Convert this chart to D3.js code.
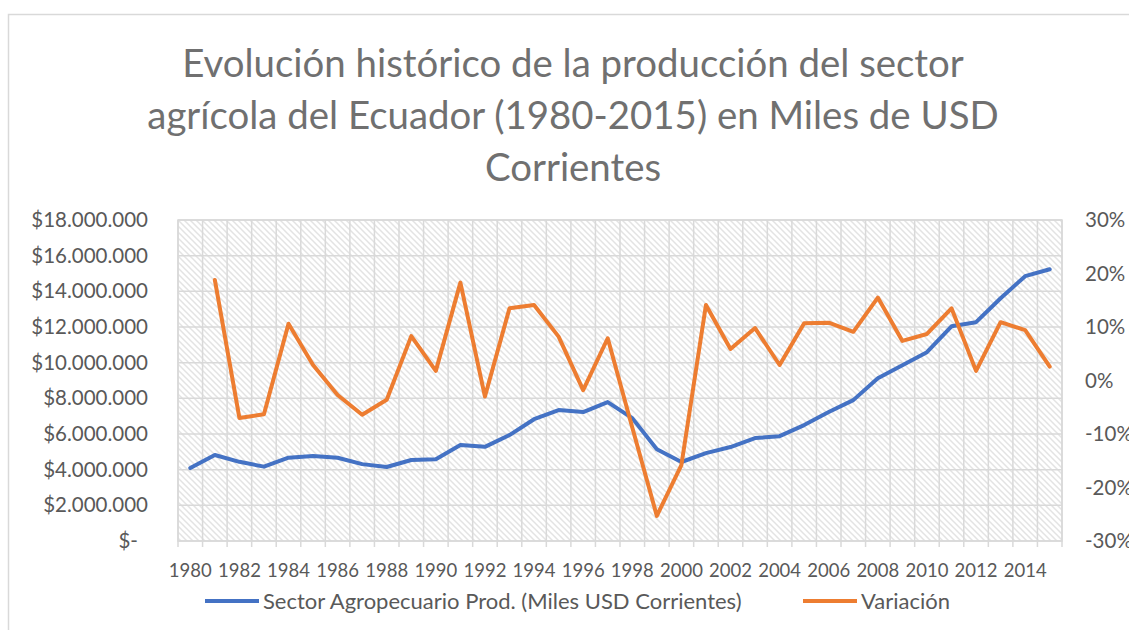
<!DOCTYPE html>
<html>
<head>
<meta charset="utf-8">
<script src="https://cdn.jsdelivr.net/npm/d3@7"></script>
<style>
    body { margin: 0; background: #fff; }
    text { font-family: Lato, "Noto Sans", sans-serif; }
</style>
</head>
<body>
<div id="chart"></div>
<script>
// Data
const years = [1980, 1981, 1982, 1983, 1984, 1985, 1986, 1987, 1988, 1989,
    1990, 1991, 1992, 1993, 1994, 1995, 1996, 1997, 1998, 1999,
    2000, 2001, 2002, 2003, 2004, 2005, 2006, 2007, 2008, 2009,
    2010, 2011, 2012, 2013, 2014, 2015];

// Sector Agropecuario Prod. (Miles USD Corrientes)
const production = [4090000, 4820000, 4440000, 4170000, 4670000, 4760000, 4670000, 4310000, 4150000, 4540000,
    4590000, 5380000, 5280000, 5940000, 6830000, 7340000, 7230000, 7790000, 6890000, 5150000,
    4430000, 4930000, 5270000, 5770000, 5880000, 6500000, 7230000, 7900000, 9130000, 9860000,
    10590000, 12040000, 12270000, 13610000, 14850000, 15240000];

// Variación (%), no value for the first year
const variation = [null, 18.8, -7.0, -6.3, 10.6, 2.9, -2.7, -6.4, -3.6, 8.3,
    1.8, 18.3, -3.0, 13.5, 14.1, 8.2, -1.8, 7.9, -8.8, -25.3,
    -15.8, 14.1, 5.9, 9.8, 2.9, 10.7, 10.8, 9.1, 15.5, 7.4,
    8.7, 13.5, 1.8, 10.9, 9.4, 2.6];

const leftTicks = [0, 2000000, 4000000, 6000000, 8000000, 10000000, 12000000, 14000000, 16000000, 18000000];
const rightTicks = [-30, -20, -10, 0, 10, 20, 30];
const yearLabels = years.filter(function(y) { return (y - 1980) % 2 === 0; });

const titleLines = ["Evolución histórico de la producción del sector",
    "agrícola del Ecuador (1980-2015) en Miles de USD",
    "Corrientes"];
const seriesNames = ["Sector Agropecuario Prod. (Miles USD Corrientes)", "Variación"];

/**
 * Constructor for the combo chart
 */
function ComboChart(){
    let self = this;
    self.init();
};

/**
 * Builds the svg, axes and both lines
 */
ComboChart.prototype.init = function(){
    let self = this;
    self.width = 1129;
    self.height = 630;
    self.plot = {left: 178, right: 1062, top: 220, bottom: 541};

    self.svg = d3.select("#chart").append("svg")
        .attr("width", self.width)
        .attr("height", self.height);

    //Hatch pattern for the plot background
    let pattern = self.svg.append("defs").append("pattern")
        .attr("id", "hatch")
        .attr("patternUnits", "userSpaceOnUse")
        .attr("width", 6)
        .attr("height", 6);
    pattern.append("path")
        .attr("d", "M-1,-1 L7,7 M-4,2 L1,7 M5,-1 L7,1")
        .attr("stroke", "#e3e3e3")
        .attr("stroke-width", 1.5);

    //Outer chart border
    self.svg.append("rect")
        .attr("x", 8.5)
        .attr("y", 14.5)
        .attr("width", 1140)
        .attr("height", 640)
        .attr("fill", "none")
        .attr("stroke", "#d9d9d9")
        .attr("stroke-width", 1.5);

    //Title
    self.svg.append("g")
        .selectAll("text")
        .data(titleLines)
        .join("text")
        .attr("x", 573)
        .attr("y", function(d, i) { return 77 + i * 52; })
        .attr("text-anchor", "middle")
        .attr("font-size", 38.4)
        .attr("fill", "#707070")
        .text(function(d) { return d; });

    let x = d3.scaleBand()
        .domain(years)
        .range([self.plot.left, self.plot.right]);
    let yLeft = d3.scaleLinear()
        .domain([0, 18000000])
        .range([self.plot.bottom, self.plot.top]);
    let yRight = d3.scaleLinear()
        .domain([-30, 30])
        .range([self.plot.bottom, self.plot.top]);
    let cx = function(year) { return x(year) + x.bandwidth() / 2; };

    //Plot area background
    self.svg.append("rect")
        .attr("x", self.plot.left)
        .attr("y", self.plot.top)
        .attr("width", self.plot.right - self.plot.left)
        .attr("height", self.plot.bottom - self.plot.top)
        .attr("fill", "url(#hatch)");

    //Horizontal gridlines
    self.svg.append("g")
        .selectAll("line")
        .data(leftTicks)
        .join("line")
        .attr("x1", self.plot.left)
        .attr("x2", self.plot.right)
        .attr("y1", function(d) { return yLeft(d); })
        .attr("y2", function(d) { return yLeft(d); })
        .attr("stroke", "#d9d9d9")
        .attr("stroke-width", 1.5);

    //Vertical gridlines at the category boundaries, with small ticks below
    let bounds = years.map(function(y) { return x(y); }).concat([self.plot.right]);
    self.svg.append("g")
        .selectAll("line")
        .data(bounds)
        .join("line")
        .attr("x1", function(d) { return d; })
        .attr("x2", function(d) { return d; })
        .attr("y1", self.plot.top)
        .attr("y2", self.plot.bottom + 6)
        .attr("stroke", "#d9d9d9")
        .attr("stroke-width", 1.5);

    //Left axis
    let fmtMoney = function(v) {
        if (v === 0) return "$-";
        return "$" + d3.format(",")(v).replace(/,/g, ".");
    };
    let leftAxis = self.svg.append("g")
        .attr("transform", "translate(" + self.plot.left + ",0)")
        .call(d3.axisLeft(yLeft).tickValues(leftTicks).tickFormat(fmtMoney).tickSize(0).tickPadding(30));
    leftAxis.select(".domain").remove();
    leftAxis.selectAll("text")
        .attr("font-size", 20.5)
        .attr("fill", "#595959")
        .attr("font-family", "Lato, sans-serif")
        .attr("dx", function(d) { return d === 0 ? -10 : 0; });

    //Right axis (cut at the picture edge, as in the original)
    let rightAxis = self.svg.append("g")
        .attr("transform", "translate(" + self.plot.right + ",0)")
        .call(d3.axisRight(yRight).tickValues(rightTicks).tickFormat(function(d) { return d + "%"; }).tickSize(0).tickPadding(23));
    rightAxis.select(".domain").remove();
    rightAxis.selectAll("text")
        .attr("font-size", 20.5)
        .attr("fill", "#595959")
        .attr("font-family", "Lato, sans-serif");

    //Bottom axis
    let bottomAxis = self.svg.append("g")
        .attr("transform", "translate(0," + self.plot.bottom + ")")
        .call(d3.axisBottom(x).tickValues(yearLabels).tickSize(0).tickPadding(23));
    bottomAxis.select(".domain").remove();
    bottomAxis.selectAll("text")
        .attr("font-size", 18.5)
        .attr("fill", "#595959")
        .attr("font-family", "Lato, sans-serif");

    //Plot border
    self.svg.append("rect")
        .attr("x", self.plot.left)
        .attr("y", self.plot.top)
        .attr("width", self.plot.right - self.plot.left)
        .attr("height", self.plot.bottom - self.plot.top)
        .attr("fill", "none")
        .attr("stroke", "#d9d9d9")
        .attr("stroke-width", 1.5);

    //Lines
    let prodLine = d3.line()
        .x(function(d, i) { return cx(years[i]); })
        .y(function(d) { return yLeft(d); });
    let varLine = d3.line()
        .defined(function(d) { return d !== null; })
        .x(function(d, i) { return cx(years[i]); })
        .y(function(d) { return yRight(d); });

    self.svg.append("path")
        .datum(production)
        .attr("d", prodLine)
        .attr("fill", "none")
        .attr("stroke", "#4472c4")
        .attr("stroke-width", 4)
        .attr("stroke-linejoin", "round")
        .attr("stroke-linecap", "round");

    self.svg.append("path")
        .datum(variation)
        .attr("d", varLine)
        .attr("fill", "none")
        .attr("stroke", "#ed7d31")
        .attr("stroke-width", 4)
        .attr("stroke-linejoin", "round")
        .attr("stroke-linecap", "round");

    //Legend
    let legendItems = [
        {name: seriesNames[0], color: "#4472c4", x: 205},
        {name: seriesNames[1], color: "#ed7d31", x: 803}
    ];
    let legend = self.svg.append("g")
        .selectAll("g")
        .data(legendItems)
        .join("g")
        .attr("transform", function(d) { return "translate(" + d.x + ",601)"; });
    legend.append("line")
        .attr("x1", 0)
        .attr("x2", 54)
        .attr("stroke", function(d) { return d.color; })
        .attr("stroke-width", 4);
    legend.append("text")
        .attr("x", 58)
        .attr("dy", "0.35em")
        .attr("font-size", 22)
        .attr("fill", "#595959")
        .text(function(d) { return d.name; });
}

let chart = new ComboChart();
</script>
</body>
</html>
